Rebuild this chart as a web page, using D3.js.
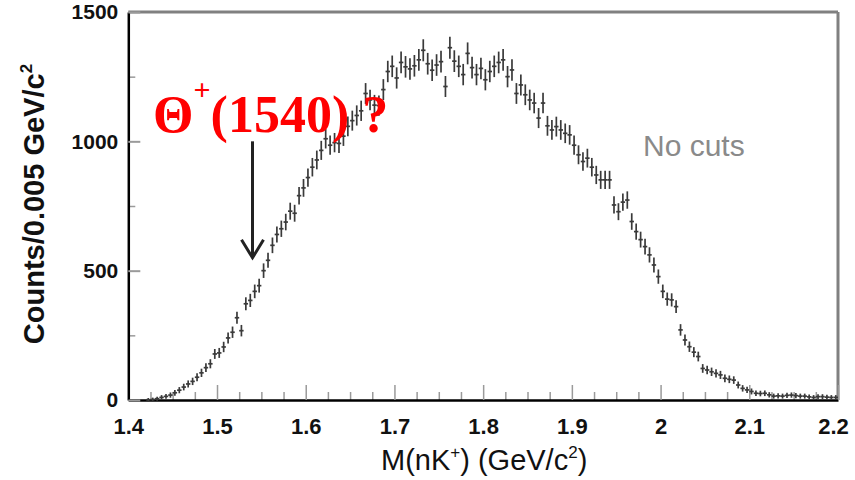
<!DOCTYPE html>
<html>
<head>
<meta charset="utf-8">
<script src="https://cdn.jsdelivr.net/npm/d3@7/dist/d3.min.js"></script>
<style>
  html, body { margin: 0; padding: 0; background: #fff; }
  svg { display: block; }
</style>
</head>
<body>
<svg id="chart" width="855" height="480"></svg>
<script>
// ---------- DATA ----------
const binStart = 1.4;      // GeV/c^2
const binWidth = 0.005;    // GeV/c^2
const counts = [
  0, 0, 0, 0, 1, 2, 5, 10, 14, 19,
  28, 38, 50, 62, 72, 88, 105, 125, 140, 178,
  182, 205, 240, 262, 318, 268, 372, 385, 420, 442,
  500, 540, 598, 640, 662, 688, 730, 722, 790, 820,
  860, 900, 928, 965, 1010, 985, 995, 992, 1020, 1058,
  1080, 1100, 1118, 1185, 1160, 1140, 1138, 1200, 1270, 1290,
  1245, 1305, 1288, 1280, 1292, 1315, 1352, 1300, 1275, 1295,
  1308, 1212, 1362, 1310, 1290, 1258, 1340, 1285, 1258, 1282,
  1238, 1270, 1290, 1305, 1315, 1250, 1276, 1185, 1218, 1180,
  1160, 1148, 1090, 1148, 1060, 1044, 1057, 1044, 1031, 1025,
  985, 948, 922, 935, 900, 870, 851, 851, 851, 754,
  728, 765, 773, 690, 651, 620, 593, 561, 522, 477,
  420, 390, 387, 361, 271, 232, 206, 185, 168, 122,
  116, 109, 103, 97, 84, 80, 77, 58, 45, 39,
  33, 26, 25, 26, 20, 15, 16, 15, 18, 19,
  17, 15, 15, 12, 10, 13, 13, 11, 10, 10
];
const xTicks = [1.4, 1.5, 1.6, 1.7, 1.8, 1.9, 2.0, 2.1, 2.2];
const xTickLabels = ["1.4", "1.5", "1.6", "1.7", "1.8", "1.9", "2", "2.1", "2.2"];
const yTicks = [0, 500, 1000, 1500];
const yTickLabels = ["0", "500", "1000", "1500"];
const xDomain = [1.4, 2.2];
const yDomain = [0, 1500];
const annotMass = 1.54;          // Θ+(1540)
const annotArrow = [1000, 550];  // arrow from / to (counts)

// ---------- SCALES ----------
const svg = d3.select("#chart");
const x = d3.scaleLinear().domain(xDomain).range([128.3, 838]);
const y = d3.scaleLinear().domain(yDomain).range([400, 12]);

const points = counts.map((c, i) => ({
  m: binStart + binWidth * (i + 0.5),
  c: c,
  e: Math.sqrt(c)
}));

// ---------- FRAME ----------
// top and right grey border
svg.append("line").attr("x1", x(1.4)).attr("x2", x(2.2)).attr("y1", y(1500)).attr("y2", y(1500))
  .attr("stroke", "#808080").attr("stroke-width", 3);
svg.append("line").attr("x1", x(2.2)).attr("x2", x(2.2)).attr("y1", y(1500)).attr("y2", y(0))
  .attr("stroke", "#808080").attr("stroke-width", 3);

// minor ticks
const xMinor = d3.range(0, 33).map(i => 1.4 + i * 0.025).filter(v => Math.abs(v * 10 - Math.round(v * 10)) > 1e-6);
const yMinor = [250, 750, 1250];

const gxMinor = svg.append("g").attr("transform", `translate(0,${y(0)})`)
  .call(d3.axisBottom(x).tickValues(xMinor).tickSize(-8).tickSizeOuter(0).tickFormat(""));
gxMinor.select(".domain").remove();
gxMinor.selectAll(".tick line").attr("stroke", "#9a9a9a").attr("stroke-width", 1.5);

const gyMinor = svg.append("g").attr("transform", `translate(${x(1.4)},0)`)
  .call(d3.axisLeft(y).tickValues(yMinor).tickSize(-7).tickSizeOuter(0).tickFormat(""));
gyMinor.select(".domain").remove();
gyMinor.selectAll(".tick line").attr("stroke", "#9a9a9a").attr("stroke-width", 1.5);

// major axes
const gx = svg.append("g").attr("transform", `translate(0,${y(0)})`)
  .call(d3.axisBottom(x).tickValues(xTicks).tickSize(-15).tickSizeOuter(0).tickPadding(18)
    .tickFormat((d, i) => xTickLabels[i]));
gx.select(".domain").attr("stroke", "#000").attr("stroke-width", 2.5);
gx.selectAll(".tick line").attr("stroke", "#9a9a9a").attr("stroke-width", 1.5);
gx.selectAll(".tick text")
  .attr("font-family", "'Liberation Sans', Arial, sans-serif")
  .attr("font-size", 22).attr("font-weight", "bold").attr("fill", "#111");
gx.selectAll(".tick text").filter((d, i) => i === xTicks.length - 1).attr("dx", -5);

const gy = svg.append("g").attr("transform", `translate(${x(1.4)},0)`)
  .call(d3.axisLeft(y).tickValues(yTicks).tickSize(-12).tickSizeOuter(0).tickPadding(10)
    .tickFormat((d, i) => yTickLabels[i]));
gy.select(".domain").attr("stroke", "#000").attr("stroke-width", 2.5);
gy.selectAll(".tick line").attr("stroke", "#9a9a9a").attr("stroke-width", 2);
gy.selectAll(".tick text")
  .attr("font-family", "'Liberation Sans', Arial, sans-serif")
  .attr("font-size", 21).attr("font-weight", "bold").attr("fill", "#111");

// axis titles
const xt = svg.append("text")
  .attr("x", (x(1.4) + x(2.2)) / 2 + 1).attr("y", 470)
  .attr("text-anchor", "middle")
  .attr("font-family", "'Liberation Sans', Arial, sans-serif")
  .attr("font-size", 29).attr("fill", "#111");
xt.append("tspan").text("M(nK");
xt.append("tspan").attr("font-size", 17).attr("dy", -12).text("+");
xt.append("tspan").attr("dy", 12).text(") (GeV/c");
xt.append("tspan").attr("font-size", 17).attr("dy", -12).text("2");
xt.append("tspan").attr("dy", 12).text(")");

const yt = svg.append("text")
  .attr("transform", `translate(44,${(y(0) + y(1500)) / 2 - 2}) rotate(-90)`)
  .attr("text-anchor", "middle")
  .attr("font-family", "'Liberation Sans', Arial, sans-serif")
  .attr("font-size", 29).attr("font-weight", "bold").attr("fill", "#111");
yt.append("tspan").text("Counts/0.005 GeV/c");
yt.append("tspan").attr("font-size", 17).attr("dy", -12).text("2");

// ---------- DATA MARKS ----------
const g = svg.append("g");
const pts = g.selectAll("g.pt").data(points.filter(p => p.c > 0)).join("g").attr("class", "pt");
pts.append("line")
  .attr("x1", d => x(d.m)).attr("x2", d => x(d.m))
  .attr("y1", d => y(d.c + d.e) - 1.5).attr("y2", d => y(Math.max(0, d.c - d.e)) + 1.5)
  .attr("stroke", "#3a3a3a").attr("stroke-width", 1.7);
pts.append("line")
  .attr("x1", d => x(d.m - binWidth * 0.5)).attr("x2", d => x(d.m + binWidth * 0.5))
  .attr("y1", d => y(d.c)).attr("y2", d => y(d.c))
  .attr("stroke", "#3a3a3a").attr("stroke-width", 1.7);

// ---------- ANNOTATIONS ----------
svg.append("text").attr("x", 643).attr("y", 156)
  .attr("font-family", "'Liberation Sans', Arial, sans-serif")
  .attr("font-size", 30).attr("fill", "#8a8a8a")
  .text("No cuts");

const ax = x(annotMass);
svg.append("line").attr("x1", ax).attr("x2", ax)
  .attr("y1", y(annotArrow[0])).attr("y2", y(annotArrow[1]) - 1)
  .attr("stroke", "#222").attr("stroke-width", 3);
svg.append("path")
  .attr("d", `M${ax - 11},${y(annotArrow[1]) - 18} L${ax},${y(annotArrow[1])} L${ax + 11},${y(annotArrow[1]) - 18}`)
  .attr("fill", "none").attr("stroke", "#222").attr("stroke-width", 3);

const rt = svg.append("text").attr("x", 153).attr("y", 132)
  .attr("font-family", "'Liberation Serif', 'Times New Roman', serif")
  .attr("font-size", 52).attr("font-weight", "bold").attr("fill", "#ff0000");
rt.append("tspan").text("Θ");
rt.append("tspan").attr("font-size", 30).attr("dy", -32).text("+");
rt.append("tspan").attr("dy", 32).text("(1540) ?");
</script>
</body>
</html>
